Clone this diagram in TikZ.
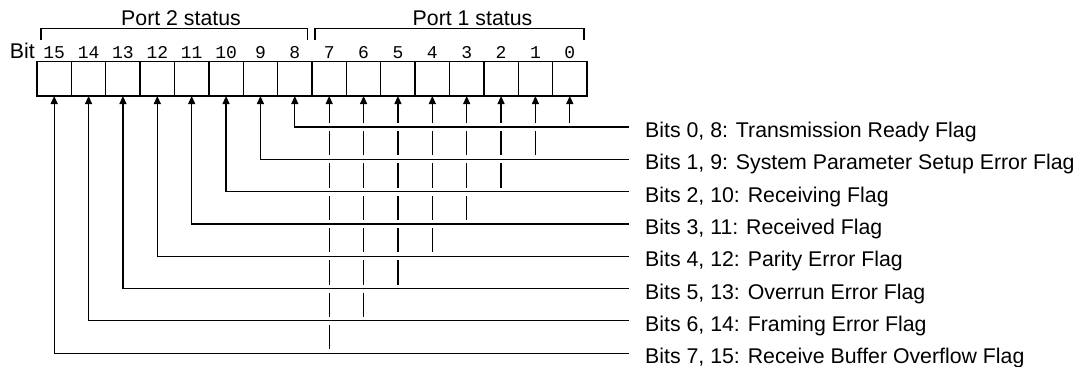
\documentclass[tikz,border=0pt]{standalone}
\usepackage{fontspec}
\setmainfont{Liberation Sans}
\newfontfamily\monof{Liberation Mono}
\usetikzlibrary{arrows.meta}
\begin{document}
\begin{tikzpicture}[x=1pt,y=-1pt,
  bitbox/.style={draw, line width=1.3pt, minimum width=34.375pt, minimum height=34.3pt, inner sep=0pt, outer sep=0pt},
  bitnum/.style={font=\monof\fontsize{18}{18}\selectfont, anchor=base, inner sep=0pt},
  flag/.style={font=\fontsize{21.3}{24}\selectfont, anchor=base west, inner sep=0pt},
  head/.style={font=\fontsize{21.3}{24}\selectfont, anchor=base, inner sep=0pt},
  conn/.style={line width=1.2pt, -{Triangle[width=7pt,length=8pt]}},
  gapline/.style={white, line width=8pt},
  brace/.style={line width=1.2pt}]
\useasboundingbox (0,0) rectangle (1088,367);
% register boxes and bit numbers
\foreach \i in {0,...,15} {
  \pgfmathsetmacro\cx{37+34.375*(15.5-\i)}
  \node[bitbox] (b\i) at (\cx,78.85) {};
  \node[bitnum] (n\i) at (\cx,58) {\i};
}
\node[font=\fontsize{21.3}{24}\selectfont, anchor=base east, inner sep=0pt] (bitlbl) at (35,58) {Bit};
% brackets
\draw[brace] (41,40) |- (307.5,28.5) -- (307.5,40);
\draw[brace] (315,40) |- (584,28.5) -- (584,40);
\node[head] (p2) at (181,25) {Port 2 status};
\node[head] (p1) at (472.5,25) {Port 1 status};
% rows and labels
\foreach \k/\yy in {0/127,1/159.3,2/191.6,3/223.9,4/256.2,5/288.5,6/320.8,7/353.1} {
  \coordinate (r\k) at (629,\yy);
}
\node[flag] (l0) at (645,137.5) {Bits 0, 8: Transmission Ready Flag};
\node[flag] (l1) at (645,169.8) {Bits 1, 9: System Parameter Setup Error Flag};
\node[flag] (l2) at (645,202.1) {Bits 2, 10: Receiving Flag};
\node[flag] (l3) at (645,234.4) {Bits 3, 11: Received Flag};
\node[flag] (l4) at (645,266.7) {Bits 4, 12: Parity Error Flag};
\node[flag] (l5) at (645,299.0) {Bits 5, 13: Overrun Error Flag};
\node[flag] (l6) at (645,331.3) {Bits 6, 14: Framing Error Flag};
\node[flag] (l7) at (645,363.4) {Bits 7, 15: Receive Buffer Overflow Flag};
% port 1 verticals (bits 0-7)
\foreach \k in {0,...,7} {
  \draw[conn] (b\k.south |- r\k) -- (b\k.south);
}
% white gaps where rows cross the verticals
\foreach \k in {0,...,7} {
  \pgfmathtruncatemacro\j{\k+8}
  \draw[gapline] (r\k) -- (b\j.south |- r\k);
}
% port 2 corner connectors (bits 8-15)
\foreach \k in {0,...,7} {
  \pgfmathtruncatemacro\j{\k+8}
  \draw[conn] (r\k) -| (b\j.south);
}
\end{tikzpicture}
\end{document}
